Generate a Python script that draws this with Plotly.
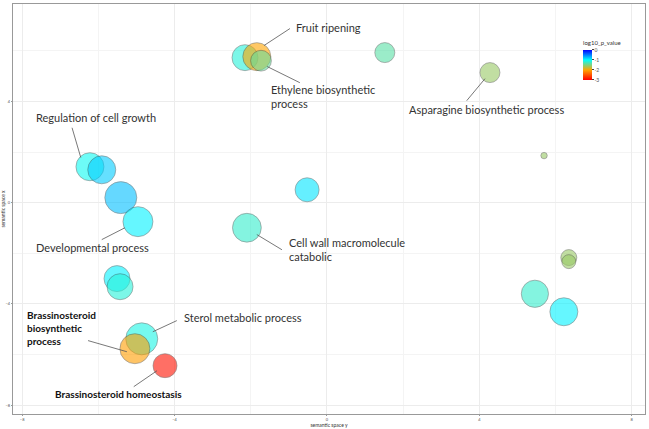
import plotly.graph_objects as go

# semantic space coordinates of the GO terms (sem_y horizontal, sem_x vertical)
sem_y = [-2.15, -1.84, -1.73, 1.52, 4.28, 5.70, -6.22, -5.91, -5.41, -4.96, -2.10,
         -0.52, -5.51, -5.43, -4.86, -5.04, -4.25, 6.35, 6.35, 5.46, 6.22]
sem_x = [5.73, 5.77, 5.61, 5.93, 5.14, 1.86, 1.42, 1.30, 0.20, -0.75, -0.99,
         0.51, -3.00, -3.32, -5.38, -5.77, -6.44, -2.17, -2.33, -3.60, -4.31]
log_size = [3.25, 3.5, 2.6, 2.5, 2.5, 0.8, 3.5, 3.5, 4.0, 3.75, 3.6,
            3.0, 3.25, 3.25, 4.0, 3.75, 3.0, 2.0, 1.75, 3.4, 3.5]
log10_p = [-1.15, -2.0, -1.4, -1.35, -1.6, -1.6, -1.05, -0.8, -0.75, -0.95, -1.2,
           -0.9, -0.95, -1.15, -1.1, -2.05, -2.9, -1.6, -1.6, -1.2, -0.95]

# labelled terms: text position and leader line (from, to)
labels = ["Fruit ripening", "Ethylene biosynthetic<br>process", "Asparagine biosynthetic process",
          "Regulation of cell growth", "Developmental process", "Cell wall macromolecule<br>catabolic",
          "Sterol metabolic process", "<b>Brassinosteroid<br>biosynthetic<br>process</b>",
          "<b>Brassinosteroid homeostasis</b>"]
label_x = [-0.87, -1.52, 2.10, -7.69, -7.69, -1.05, -3.81, -7.93, -7.19]
label_y = [6.92, 4.21, 3.68, 3.36, -1.78, -1.86, -4.55, -4.96, -7.55]
line_x0 = [-0.97, -1.57, 3.67, -6.69, -5.91, -1.84, -3.94, -6.27, -5.07]
line_y0 = [6.88, 5.38, 4.03, 2.96, -1.46, -1.26, -4.66, -5.45, -7.27]
line_x1 = [-1.65, -0.71, 4.15, -6.46, -5.30, -1.18, -4.57, -5.25, -4.46]
line_y1 = [6.21, 4.74, 4.90, 1.78, -0.99, -1.86, -5.10, -5.89, -6.64]

fig = go.Figure()

fig.add_trace(go.Scatter(
    x=sem_y,
    y=sem_x,
    mode="markers",
    marker=dict(
        size=[s * 8 for s in log_size],
        sizemode="diameter",
        color=log10_p,
        cmin=-3,
        cmax=0,
        colorscale=[[0, "#ff0000"], [1 / 3, "#ffa500"], [2 / 3, "#00ffff"], [1, "#0000ff"]],
        opacity=0.6,
        line=dict(color="#333333", width=0.6),
        colorbar=dict(
            title=dict(text="log10_p_value", font=dict(size=6, color="#333"), side="top"),
            x=0.902, xanchor="left",
            y=0.866, yanchor="middle",
            len=42, lenmode="pixels",
            thickness=9,
            tickvals=[0, -1, -2, -3],
            ticktext=["0", "-1", "-2", "-3"],
            tickfont=dict(size=5, color="#555"),
            ticks="outside", ticklen=2,
            outlinewidth=0,
            xpad=0, ypad=0,
        ),
    ),
    showlegend=False,
    hoverinfo="skip",
))

for i in range(len(labels)):
    bold = "<b>" in labels[i]
    fig.add_shape(type="line", x0=line_x0[i], y0=line_y0[i], x1=line_x1[i], y1=line_y1[i],
                  xref="x", yref="y", line=dict(color="#555555", width=0.8))
    fig.add_annotation(x=label_x[i], y=label_y[i], text=labels[i], showarrow=False,
                       xanchor="left", yanchor="middle", align="left",
                       font=dict(family="Lato", size=10 if bold else 11,
                                 color="#111" if bold else "#333"))

fig.update_layout(
    width=649,
    height=429,
    margin=dict(l=13, r=4, t=4, b=15, autoexpand=False),
    plot_bgcolor="white",
    paper_bgcolor="white",
    font=dict(family="Lato"),
)

fig.update_xaxes(
    range=[-8.24, 8.35],
    tickvals=[-8, -4, 0, 4, 8],
    tickfont=dict(size=4, color="#555"),
    ticks="outside", ticklen=1, tickcolor="#999",
    showgrid=True, gridcolor="#ececec", gridwidth=0.6,
    minor=dict(dtick=2, tick0=0, showgrid=True, gridcolor="#f4f4f4"),
    zeroline=False,
    showline=True, linecolor="#999", mirror=True, linewidth=1,
    title=dict(text="semantic space y", font=dict(size=5, color="#333"), standoff=0),
    automargin=False,
)
fig.update_yaxes(
    range=[-8.35, 7.85],
    tickvals=[-8, -4, 0, 4],
    tickfont=dict(size=4, color="#555"),
    ticks="outside", ticklen=1, tickcolor="#999",
    showgrid=True, gridcolor="#ececec", gridwidth=0.6,
    minor=dict(dtick=2, tick0=0, showgrid=True, gridcolor="#f4f4f4"),
    zeroline=False,
    showline=True, linecolor="#999", mirror=True, linewidth=1,
    title=dict(text="semantic space x", font=dict(size=5, color="#333"), standoff=0),
    automargin=False,
)

# page body has a default 8px margin; drop it so the figure fills the window
fig.write_html("out.html", config={"displayModeBar": False},
               post_script="document.body.style.margin = '0';")
